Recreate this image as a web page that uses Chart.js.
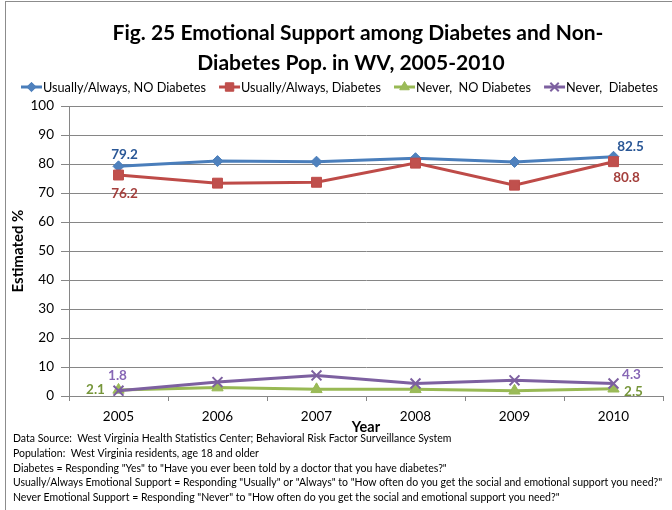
<!DOCTYPE html>
<html>
<head>
<meta charset="utf-8">
<script src="https://cdn.jsdelivr.net/npm/chart.js@4/dist/chart.umd.min.js"></script>
<style>
  html, body { margin: 0; padding: 0; background: #ffffff; overflow: hidden; }
  #wrap { width: 672px; height: 510px; }
</style>
</head>
<body>
<div id="wrap"><canvas id="chart" width="672" height="510"></canvas></div>
<script>
// ---- data ----
const years = ['2005', '2006', '2007', '2008', '2009', '2010'];
const usuallyNoDiabetes = [79.2, 81.0, 80.8, 82.0, 80.7, 82.5];
const usuallyDiabetes   = [76.2, 73.4, 73.7, 80.3, 72.7, 80.8];
const neverNoDiabetes   = [2.1, 2.9, 2.3, 2.3, 1.8, 2.5];
const neverDiabetes     = [1.8, 4.8, 7.1, 4.3, 5.4, 4.3];
const seriesNames = ['Usually/Always, NO Diabetes', 'Usually/Always, Diabetes', 'Never,  NO Diabetes', 'Never,  Diabetes'];
const yTickStep = 10;
const yMin = 0, yMax = 100;

const titleLines = ['Fig. 25 Emotional Support among Diabetes and Non-', 'Diabetes Pop. in WV, 2005-2010'];
const footnotes = [
  'Data Source:  West Virginia Health Statistics Center; Behavioral Risk Factor Surveillance System',
  'Population:  West Virginia residents, age 18 and older',
  'Diabetes = Responding "Yes" to "Have you ever been told by a doctor that you have diabetes?"',
  'Usually/Always Emotional Support = Responding "Usually" or "Always" to "How often do you get the social and emotional support you need?"',
  'Never Emotional Support = Responding "Never" to "How often do you get the social and emotional support you need?"'
];

const FONT = 'Lato, "Open Sans", sans-serif';
const GRID = '#868686';

// ---- series styling ----
const styles = [
  { line: '#4A7EBB', fill: '#4F81BD', label: '#2A5796', pointStyle: 'rectRot', radius: 5.5, order: 4 },
  { line: '#BE4B48', fill: '#C0504D', label: '#A43F3C', pointStyle: 'rect', radius: 7, order: 3 },
  { line: '#98B954', fill: '#9BBB59', label: '#76963A', pointStyle: 'triangle', radius: 6.5, order: 2 },
  { line: '#7D60A0', fill: '#7D60A0', label: '#8767B5', pointStyle: 'crossRot', radius: 7, order: 1 }
];
const seriesValues = [usuallyNoDiabetes, usuallyDiabetes, neverNoDiabetes, neverDiabetes];

// end-point value label placement (offset from the point, in px)
const labelPlacement = [
  { first: [6, -12], last: [17, -10] },
  { first: [6, 19], last: [13, 16] },
  { first: [-23, 0], last: [20, 3] },
  { first: [-1, -15], last: [18, -9] }
];

const datasets = seriesValues.map((vals, i) => ({
  label: seriesNames[i],
  data: vals,
  borderColor: styles[i].line,
  backgroundColor: styles[i].fill,
  pointBackgroundColor: styles[i].fill,
  pointBorderColor: styles[i].line,
  pointStyle: styles[i].pointStyle,
  pointRadius: styles[i].radius,
  pointHoverRadius: styles[i].radius,
  pointBorderWidth: styles[i].pointStyle === 'crossRot' ? 2 : 1,
  borderWidth: 3,
  tension: 0,
  fill: false,
  order: styles[i].order
}));

// frame, title, legend, footnotes
const decorPlugin = {
  id: 'decor',
  beforeDraw(chart) {
    const ctx = chart.ctx;
    ctx.save();
    ctx.fillStyle = '#ffffff';
    ctx.fillRect(0, 0, chart.width, chart.height);
    ctx.strokeStyle = '#8c8c8c';
    ctx.lineWidth = 1;
    ctx.strokeRect(5.5, 1.5, 760, 600);
    ctx.restore();
  },
  afterDraw(chart) {
    const ctx = chart.ctx;
    ctx.save();
    // title
    ctx.fillStyle = '#000000';
    ctx.textAlign = 'center';
    ctx.textBaseline = 'middle';
    ctx.font = 'bold 21px ' + FONT;
    ctx.fillText(titleLines[0], 358, 33);
    ctx.fillText(titleLines[1], 351, 63);

    // legend: line segment with marker, then the series name
    ctx.font = '12.7px ' + FONT;
    ctx.textAlign = 'left';
    let x = 21;
    const ly = 87;
    chart.data.datasets.forEach((ds, i) => {
      ctx.strokeStyle = ds.borderColor;
      ctx.lineWidth = 3;
      ctx.beginPath();
      ctx.moveTo(x, ly);
      ctx.lineTo(x + 21, ly);
      ctx.stroke();
      ctx.fillStyle = ds.pointBackgroundColor;
      ctx.strokeStyle = ds.pointBorderColor;
      ctx.lineWidth = ds.pointBorderWidth;
      Chart.helpers.drawPoint(ctx, { pointStyle: ds.pointStyle, radius: ds.pointRadius * 0.85, rotation: 0, borderWidth: ds.pointBorderWidth }, x + 10.5, ly);
      ctx.fillStyle = '#000000';
      ctx.fillText(ds.label, x + 22, ly + 0.5);
      x += 22 + ctx.measureText(ds.label).width + 13;
    });

    // notes
    ctx.font = '10.5px ' + FONT;
    ctx.fillStyle = '#000000';
    footnotes.forEach((t, i) => ctx.fillText(t, 13, 439 + i * 14.6));
    ctx.restore();
  },
  afterDatasetsDraw(chart) {
    const ctx = chart.ctx;
    ctx.save();
    ctx.font = 'bold 13.5px ' + FONT;
    ctx.textAlign = 'center';
    ctx.textBaseline = 'middle';
    chart.data.datasets.forEach((ds, i) => {
      const meta = chart.getDatasetMeta(i);
      const n = ds.data.length;
      [[0, labelPlacement[i].first], [n - 1, labelPlacement[i].last]].forEach(([idx, off]) => {
        const pt = meta.data[idx];
        ctx.fillStyle = styles[i].label;
        ctx.fillText(ds.data[idx].toFixed(1), pt.x + off[0], pt.y + off[1]);
      });
    });
    ctx.restore();
  }
};

new Chart(document.getElementById('chart'), {
  type: 'line',
  data: { labels: years, datasets },
  plugins: [decorPlugin],
  options: {
    responsive: false,
    animation: false,
    devicePixelRatio: 1,
    layout: { padding: { left: 0, right: 3, top: 106, bottom: 74 } },
    plugins: { legend: { display: false }, title: { display: false }, tooltip: { enabled: false } },
    scales: {
      x: {
        offset: true,
        afterFit: s => { s.height = 40; },
        grid: { display: true, drawOnChartArea: false, drawTicks: true, tickLength: 5, color: GRID, offset: true },
        border: { display: true, color: GRID, width: 1 },
        ticks: { color: '#000000', font: { family: FONT, size: 13.5 }, padding: 8, maxRotation: 0 },
        title: { display: true, text: 'Year', color: '#000000', font: { family: FONT, size: 14.5, weight: 'bold' }, padding: { top: 0, bottom: 0 } }
      },
      y: {
        min: yMin,
        max: yMax,
        afterFit: s => { s.width = 69; },
        grid: { color: GRID, lineWidth: 1, tickLength: 8, drawTicks: true },
        border: { display: true, color: GRID, width: 1 },
        ticks: { stepSize: yTickStep, color: '#000000', font: { family: FONT, size: 13.5 }, padding: 7 },
        title: { display: true, text: 'Estimated %', color: '#000000', font: { family: FONT, size: 15, weight: 'bold' }, padding: { top: 9.5, bottom: 0 } }
      }
    }
  }
});
</script>
</body>
</html>
